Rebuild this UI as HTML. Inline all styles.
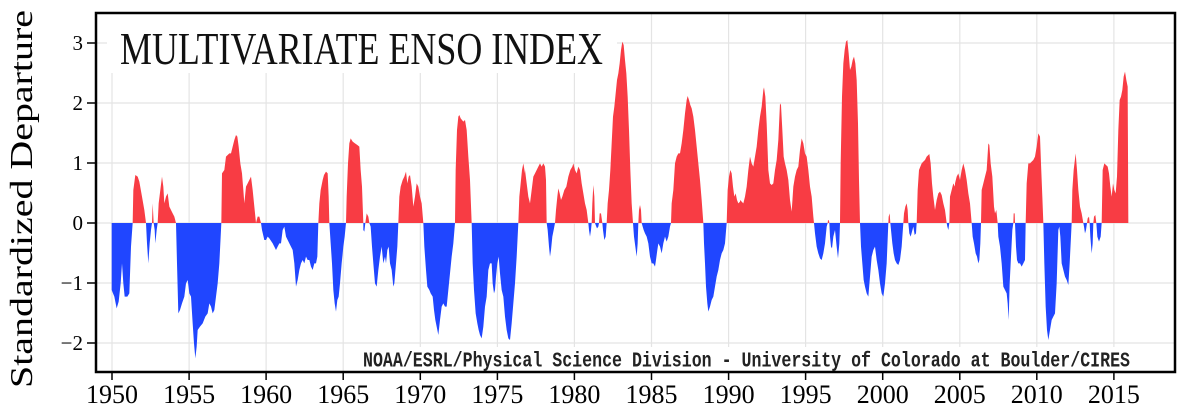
<!DOCTYPE html>
<html><head><meta charset="utf-8"><style>
html,body{margin:0;padding:0;background:#fff;}
svg{display:block;}
</style></head><body>
<svg width="1182" height="416" viewBox="0 0 1182 416" xmlns="http://www.w3.org/2000/svg">
<defs>
<clipPath id="cr" clipPathUnits="userSpaceOnUse"><rect x="96" y="13" width="1080" height="210"/></clipPath>
<clipPath id="cb" clipPathUnits="userSpaceOnUse"><rect x="96" y="223" width="1080" height="149"/></clipPath>
<g id="data">
<g transform="translate(96,30) scale(0.333333)"><path d="M47,579 L47,780 55,800 62,835 68,815 74,760 78,700 82,760 86,800 94,800 100,790 105,650 110,579 112,480 118,435 125,440 130,455 138,500 145,540 150,579 153,640 157,700 161,640 165,600 168,579 170,520 173,579 176,600 178,640 182,600 185,579 188,520 193,480 198,440 202,470 205,520 210,500 215,490 220,530 225,540 230,550 235,560 240,579 243,700 247,850 252,840 258,820 265,800 270,760 275,750 280,790 285,800 290,880 294,940 298,985 302,950 305,900 312,890 320,880 328,860 335,850 340,820 345,830 350,850 355,840 360,800 365,760 370,700 374,620 376,579 378,430 385,420 390,380 395,375 400,370 405,370 410,350 415,330 420,315 424,320 428,350 433,400 438,430 442,480 445,520 450,470 455,460 460,450 465,440 470,480 475,530 480,579 485,560 490,560 495,579 498,600 505,630 510,630 515,620 520,625 530,640 540,660 545,650 550,640 555,640 560,600 565,590 570,620 575,630 580,640 590,660 595,700 600,770 605,750 610,720 615,700 620,690 625,700 630,680 635,690 640,690 645,710 650,720 655,700 660,700 660,579 Z"/></g>
<g transform="translate(310,30) scale(0.333333)"><path d="M18,579 L18,700 22,680 25,579 28,520 32,480 38,450 42,435 48,425 53,430 56,500 58,579 62,640 66,700 70,780 74,820 78,845 82,810 86,800 90,760 95,700 100,650 104,620 108,579 110,500 114,400 118,340 122,325 128,335 135,340 142,345 148,350 152,420 156,470 160,579 160,600 163,605 166,579 170,550 175,560 178,579 182,590 186,650 190,700 195,760 200,770 205,720 210,680 215,650 220,700 225,680 228,700 232,660 236,650 240,700 245,720 250,770 253,760 258,700 262,650 265,579 268,500 272,470 278,450 283,440 288,425 292,460 296,440 300,435 305,470 310,530 315,500 320,460 325,470 330,500 335,520 340,579 343,650 348,720 352,770 358,780 362,790 368,800 372,840 376,870 380,890 385,915 390,870 395,830 400,820 405,830 410,830 415,780 420,730 425,680 430,640 435,579 437,420 441,300 445,260 448,255 452,265 456,270 460,275 465,270 470,300 475,380 480,450 485,579 488,700 492,780 497,850 502,880 506,900 510,915 515,925 520,890 525,830 530,800 535,720 540,700 545,700 548,760 552,790 555,780 558,740 562,700 566,680 570,730 575,780 580,800 585,860 590,900 595,925 600,930 605,880 610,820 615,760 620,680 625,579 628,500 632,460 636,420 640,400 645,430 645,579 Z"/></g>
<g transform="translate(525,30) scale(0.333333)"><path d="M0,579 L0,420 5,460 10,500 15,520 20,480 25,440 30,430 35,420 40,410 45,400 50,410 55,400 60,410 63,450 65,579 68,600 72,650 75,680 78,660 82,620 86,600 90,579 93,540 97,500 100,475 104,490 108,510 112,500 118,480 124,470 130,440 136,420 142,410 145,400 150,420 155,430 160,410 165,420 170,460 175,490 180,520 185,540 190,579 192,600 195,620 198,600 200,579 202,520 205,465 208,500 210,579 212,585 216,595 220,590 222,579 224,550 228,550 232,579 234,600 238,630 242,620 245,579 248,520 252,480 256,420 260,340 264,260 268,230 272,190 276,150 280,130 284,100 288,60 292,35 296,45 300,90 304,130 308,200 312,300 316,420 320,520 324,579 327,620 331,650 335,680 338,640 340,579 342,540 345,525 348,540 350,579 353,590 356,600 360,610 365,620 370,640 375,680 380,700 385,700 390,710 393,690 397,660 400,640 405,650 410,670 415,640 420,620 425,635 430,620 435,590 438,579 440,520 445,480 450,400 455,380 460,370 465,370 470,340 475,300 480,250 485,210 488,198 492,210 496,225 500,235 505,260 510,300 515,350 520,400 525,450 530,510 535,579 537,640 540,700 543,770 547,820 550,845 555,830 560,810 565,800 570,770 575,740 580,720 585,690 590,670 595,660 600,640 605,579 608,480 612,440 616,420 620,430 624,470 628,500 632,490 636,510 640,520 645,515 645,579 Z"/></g>
<g transform="translate(740,30) scale(0.333333)"><path d="M0,579 L0,510 5,515 10,520 15,500 20,470 25,420 30,380 35,400 40,410 45,380 50,350 55,300 60,260 65,230 70,180 72,172 76,200 80,280 85,420 90,460 95,465 100,460 105,420 110,390 115,330 120,220 123,225 127,300 131,380 135,400 140,420 145,450 150,510 155,545 160,470 165,440 170,420 175,410 180,360 185,325 190,340 195,370 200,380 205,420 210,470 215,500 220,560 222,579 225,610 230,650 235,670 240,685 245,690 250,670 255,640 260,590 263,579 264,570 267,572 268,579 270,620 273,650 276,655 280,620 285,600 290,650 294,685 298,640 300,579 302,400 306,200 310,100 314,60 318,35 322,30 326,70 330,120 334,110 338,90 342,80 346,100 350,150 354,280 357,450 360,579 363,650 367,700 371,750 375,770 380,790 385,800 390,740 395,680 400,660 405,650 410,690 415,720 420,760 425,790 430,800 435,760 440,700 445,579 446,560 449,550 451,579 453,600 457,640 461,670 465,690 470,700 475,705 480,690 485,650 490,579 492,550 496,530 500,520 503,540 505,579 508,610 512,620 516,605 520,590 524,615 528,610 530,579 533,480 537,420 541,410 545,400 550,395 555,390 560,380 565,375 568,372 572,400 576,460 580,500 585,540 590,510 595,490 600,485 605,495 610,520 615,540 620,579 622,590 625,600 628,579 630,500 635,480 640,460 645,470 645,579 Z"/></g>
<g transform="translate(955,30) scale(0.333333)"><path d="M0,579 L0,460 5,440 10,430 15,450 20,420 25,400 30,420 35,450 40,490 45,520 50,579 53,620 57,640 62,670 66,680 70,700 73,690 76,640 78,579 80,480 85,460 90,440 95,420 100,340 103,345 107,400 112,440 117,530 120,550 124,540 128,579 130,620 135,650 140,700 145,770 150,780 155,790 158,820 161,870 164,760 168,680 172,600 175,579 176,550 179,550 180,579 183,650 186,690 190,700 195,700 200,710 205,700 210,690 212,579 215,460 220,400 225,400 230,395 235,390 240,380 245,350 250,310 255,320 258,400 262,500 265,579 268,700 272,830 276,900 280,930 285,900 290,870 295,860 300,850 305,760 310,600 313,590 316,620 320,700 325,720 330,740 335,750 340,765 344,700 348,620 350,579 352,480 356,420 362,370 366,420 370,480 375,530 380,550 385,579 387,590 390,610 393,600 396,579 398,565 402,560 404,579 406,620 410,670 413,640 415,579 417,560 421,555 424,579 427,620 432,635 437,620 440,579 443,420 448,400 453,405 458,410 462,430 466,470 470,500 474,460 478,480 482,490 486,440 490,300 494,210 498,200 502,180 506,140 510,125 514,150 518,170 520,579 Z"/></g>
</g>
</defs>

<!-- gridlines -->
<g stroke="#e4e4e4" stroke-width="1.2">
<line x1="112" y1="13" x2="112" y2="372"/>
<line x1="189.1" y1="13" x2="189.1" y2="372"/>
<line x1="266.1" y1="13" x2="266.1" y2="372"/>
<line x1="343.2" y1="13" x2="343.2" y2="372"/>
<line x1="420.3" y1="13" x2="420.3" y2="372"/>
<line x1="497.4" y1="13" x2="497.4" y2="372"/>
<line x1="574.4" y1="13" x2="574.4" y2="372"/>
<line x1="651.5" y1="13" x2="651.5" y2="372"/>
<line x1="728.6" y1="13" x2="728.6" y2="372"/>
<line x1="805.6" y1="13" x2="805.6" y2="372"/>
<line x1="882.7" y1="13" x2="882.7" y2="372"/>
<line x1="959.8" y1="13" x2="959.8" y2="372"/>
<line x1="1036.8" y1="13" x2="1036.8" y2="372"/>
<line x1="1113.9" y1="13" x2="1113.9" y2="372"/>
<line x1="96" y1="43" x2="1175" y2="43"/>
<line x1="96" y1="103" x2="1175" y2="103"/>
<line x1="96" y1="163" x2="1175" y2="163"/>
<line x1="96" y1="223" x2="1175" y2="223"/>
<line x1="96" y1="283" x2="1175" y2="283"/>
<line x1="96" y1="343" x2="1175" y2="343"/>
</g>

<!-- title and credit boxes -->
<rect x="107" y="14" width="510" height="59" fill="#fff"/>
<rect x="358" y="347" width="777" height="24" fill="#fff"/>

<!-- data -->
<use href="#data" fill="#f83c44" clip-path="url(#cr)"/>
<use href="#data" fill="#2046ff" clip-path="url(#cb)"/>

<!-- frame -->
<rect x="96" y="13" width="1079" height="359" fill="none" stroke="#000" stroke-width="2.5"/>

<!-- ticks -->
<g stroke="#000" stroke-width="1.5">
<line x1="87" y1="43" x2="96" y2="43"/>
<line x1="87" y1="103" x2="96" y2="103"/>
<line x1="87" y1="163" x2="96" y2="163"/>
<line x1="87" y1="223" x2="96" y2="223"/>
<line x1="87" y1="283" x2="96" y2="283"/>
<line x1="87" y1="343" x2="96" y2="343"/>
<line x1="112" y1="372" x2="112" y2="380"/>
<line x1="189.1" y1="372" x2="189.1" y2="380"/>
<line x1="266.1" y1="372" x2="266.1" y2="380"/>
<line x1="343.2" y1="372" x2="343.2" y2="380"/>
<line x1="420.3" y1="372" x2="420.3" y2="380"/>
<line x1="497.4" y1="372" x2="497.4" y2="380"/>
<line x1="574.4" y1="372" x2="574.4" y2="380"/>
<line x1="651.5" y1="372" x2="651.5" y2="380"/>
<line x1="728.6" y1="372" x2="728.6" y2="380"/>
<line x1="805.6" y1="372" x2="805.6" y2="380"/>
<line x1="882.7" y1="372" x2="882.7" y2="380"/>
<line x1="959.8" y1="372" x2="959.8" y2="380"/>
<line x1="1036.8" y1="372" x2="1036.8" y2="380"/>
<line x1="1113.9" y1="372" x2="1113.9" y2="380"/>
</g>

<!-- y tick labels -->
<g font-family="Liberation Serif, serif" font-size="21" fill="#000" text-anchor="end">
<text x="83" y="50">3</text>
<text x="83" y="110">2</text>
<text x="83" y="170">1</text>
<text x="83" y="230">0</text>
<text x="83" y="290">−1</text>
<text x="83" y="350">−2</text>
</g>

<!-- x tick labels -->
<g font-family="Liberation Serif, serif" font-size="26" fill="#000" text-anchor="middle">
<text x="112" y="403">1950</text>
<text x="189.1" y="403">1955</text>
<text x="266.1" y="403">1960</text>
<text x="343.2" y="403">1965</text>
<text x="420.3" y="403">1970</text>
<text x="497.4" y="403">1975</text>
<text x="574.4" y="403">1980</text>
<text x="651.5" y="403">1985</text>
<text x="728.6" y="403">1990</text>
<text x="805.6" y="403">1995</text>
<text x="882.7" y="403">2000</text>
<text x="959.8" y="403">2005</text>
<text x="1036.8" y="403">2010</text>
<text x="1113.9" y="403">2015</text>
</g>

<!-- y axis title -->
<text transform="translate(32,388) rotate(-90)" font-family="Liberation Serif, serif" font-size="32" fill="#000" textLength="378" lengthAdjust="spacingAndGlyphs">Standardized Departure</text>

<!-- chart title -->
<text x="120" y="64" font-family="Liberation Serif, serif" font-size="46" fill="#111" textLength="483" lengthAdjust="spacingAndGlyphs">MULTIVARIATE ENSO INDEX</text>

<!-- credit -->
<text x="363" y="366.5" font-family="Liberation Mono, monospace" font-weight="bold" font-size="21" fill="#222" textLength="767" lengthAdjust="spacingAndGlyphs">NOAA/ESRL/Physical Science Division - University of Colorado at Boulder/CIRES</text>
</svg>
</body></html>
